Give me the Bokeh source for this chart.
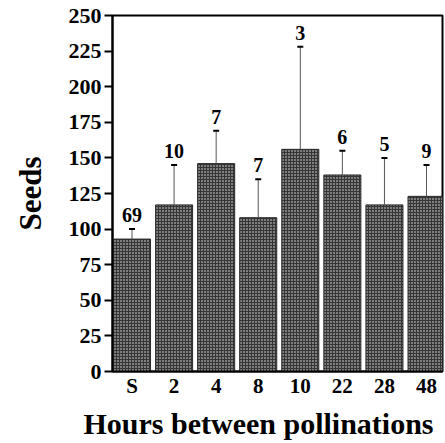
from bokeh.plotting import figure
from bokeh.models import Range1d, FixedTicker, ColumnDataSource, LabelSet, Title
from bokeh.embed import file_html
from bokeh.resources import INLINE

# Data
categories = ["S", "2", "4", "8", "10", "22", "28", "48"]
seeds_mean = [93, 117, 146, 108, 156, 138, 117, 123]
seeds_se = [7, 28, 23, 27, 72, 17, 33, 22]
n_counts = ["69", "10", "7", "7", "3", "6", "5", "9"]
y_ticks = [0, 25, 50, 75, 100, 125, 150, 175, 200, 225, 250]

xs = list(range(len(categories)))
upper = [m + s for m, s in zip(seeds_mean, seeds_se)]
src = ColumnDataSource(dict(x=xs, mean=seeds_mean, upper=upper, n=n_counts))

FONT = "Liberation Serif"

p = figure(width=445, height=443, x_range=Range1d(-0.464, 7.38), y_range=Range1d(0, 250),
           output_backend="svg", toolbar_location=None,
           min_border_left=112, min_border_right=3, min_border_top=15, min_border_bottom=72)
p.grid.visible = False
p.outline_line_color = "black"
p.outline_line_width = 2
p.background_fill_color = "white"
p.border_fill_color = "white"

p.vbar(x="x", top="mean", bottom=0, width=0.88, source=src,
       fill_color="#7e7e7e", line_color="#2a2a2a", line_width=1,
       hatch_pattern="cross", hatch_color="#363636", hatch_scale=3, hatch_weight=1)
p.segment(x0="x", y0="mean", x1="x", y1="upper", source=src, line_color="#555555", line_width=1)
p.scatter(x="x", y="upper", source=src, marker="dash", size=6, line_width=2, line_color="black")

labels = LabelSet(x="x", y="upper", text="n", source=src, y_offset=7,
                  text_align="center", text_baseline="alphabetic",
                  text_font=FONT, text_font_style="bold", text_font_size="20px", text_color="black")
p.add_layout(labels)

# y axis
p.yaxis.ticker = FixedTicker(ticks=y_ticks)
p.yaxis.minor_tick_line_color = None
p.yaxis.major_tick_in = 0
p.yaxis.major_tick_out = 8
p.yaxis.major_tick_line_width = 2
p.yaxis.axis_line_width = 2
p.yaxis.axis_line_color = "black"
p.yaxis.major_label_standoff = 3
p.yaxis.major_label_text_font = FONT
p.yaxis.major_label_text_font_style = "bold"
p.yaxis.major_label_text_font_size = "22px"
p.yaxis.major_label_text_color = "black"
p.yaxis.axis_label = "Seeds"
p.yaxis.axis_label_text_font = FONT
p.yaxis.axis_label_text_font_style = "bold"
p.yaxis.axis_label_text_font_size = "31px"
p.yaxis.axis_label_text_color = "black"
p.yaxis.axis_label_standoff = 18

# x axis
p.xaxis.ticker = FixedTicker(ticks=xs)
p.xaxis.major_label_overrides = {i: c for i, c in zip(xs, categories)}
p.xaxis.minor_tick_line_color = None
p.xaxis.major_tick_line_color = None
p.xaxis.major_tick_in = 0
p.xaxis.major_tick_out = 0
p.xaxis.axis_line_width = 2
p.xaxis.axis_line_color = "black"
p.xaxis.major_label_standoff = 2
p.xaxis.major_label_text_font = FONT
p.xaxis.major_label_text_font_style = "bold"
p.xaxis.major_label_text_font_size = "21px"
p.xaxis.major_label_text_color = "black"

t = Title(text="Hours between pollinations", align="left", offset=-29,
          text_font=FONT, text_font_style="bold", text_font_size="30px", text_color="black",
          standoff=8)
p.add_layout(t, "below")

open("out.html", "w").write(file_html(p, INLINE))
